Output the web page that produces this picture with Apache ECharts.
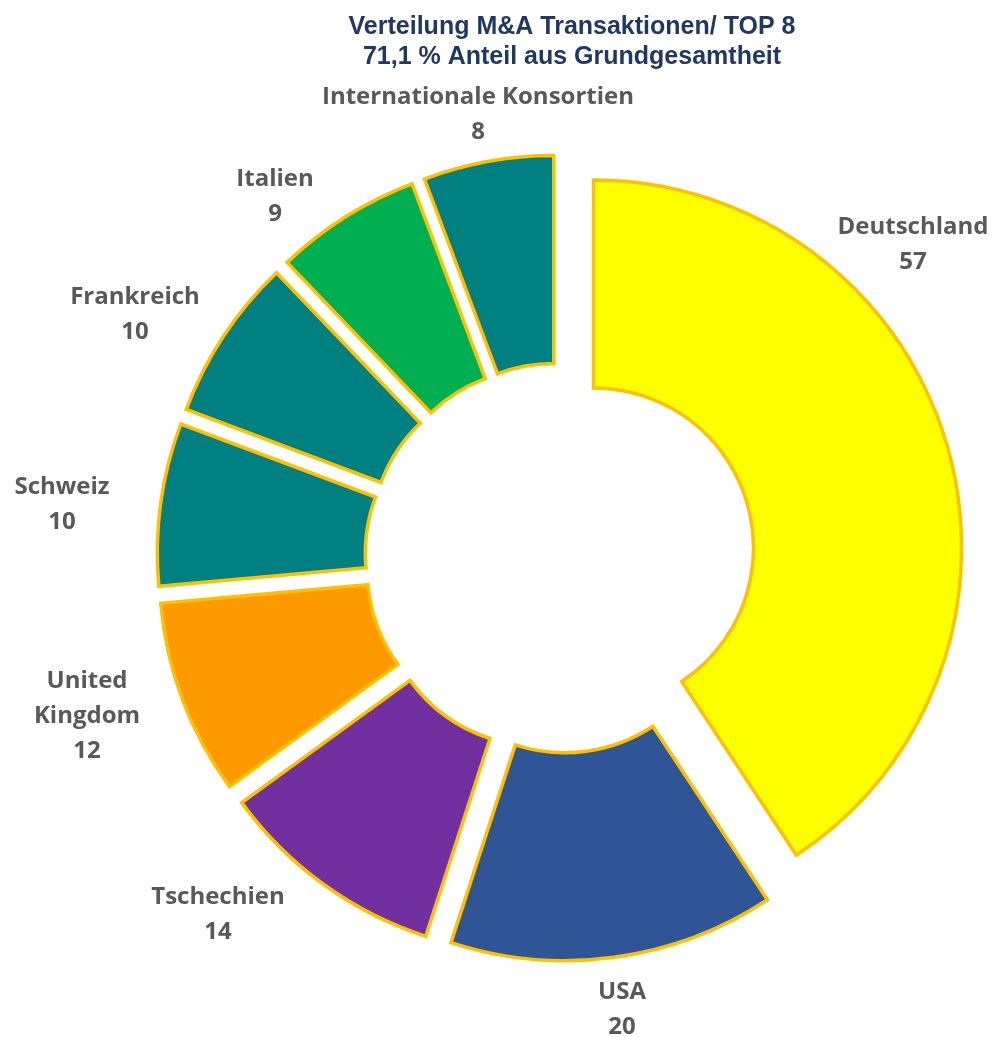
<!DOCTYPE html>
<html>
<head>
<meta charset="utf-8">
<script src="https://cdn.jsdelivr.net/npm/echarts@6/dist/echarts.min.js"></script>
<style>
  html, body { margin: 0; padding: 0; background: #fff; }
  #main { width: 992px; height: 1037px; }
</style>
</head>
<body>
<div id="main"></div>
<script>
// values
var countries = ['Deutschland', 'USA', 'Tschechien', 'United\nKingdom', 'Schweiz', 'Frankreich', 'Italien', 'Internationale Konsortien'];
var deals = [57, 20, 14, 12, 10, 10, 9, 8];
var sliceColors = ['#FFFF00', '#2F5597', '#7030A0', '#FF9900', '#008080', '#008080', '#00B050', '#008080'];

var chart = echarts.init(document.getElementById('main'));

// where Excel put each label (centre of the text block)
var labelSpots = [
    [913, 245], [622, 1010], [218, 915], [87, 716],
    [62, 505], [135, 315], [275, 197], [478, 115]
];

var pieCenter = [560, 558];
var pieRadius = [160, 368];

var option = {
    backgroundColor: '#fff',
    animation: false,
    title: {
        text: 'Verteilung M&A Transaktionen/ TOP 8\n71,1 % Anteil aus Grundgesamtheit',
        left: 567,
        top: 7,
        textAlign: 'center',
        textStyle: {
            fontFamily: 'Liberation Sans, Arial',
            fontSize: 25,
            fontWeight: 'bold',
            color: '#1F3864',
            lineHeight: 30
        }
    },
    series: [
        {
            name: 'M&A',
            type: 'pie',
            center: pieCenter,
            radius: pieRadius,
            startAngle: 90,
            clockwise: true,
            selectedMode: 'multiple',
            selectedOffset: 35,
            itemStyle: {
                borderColor: '#FFC000',
                borderWidth: 3.5,
                borderJoin: 'miter'
            },
            label: { show: false },
            labelLine: { show: false },
            emphasis: { disabled: true },
            data: countries.map(function (name, i) {
                return {
                    name: name,
                    value: deals[i],
                    selected: true,
                    itemStyle: { color: sliceColors[i] }
                };
            })
        },
        {
            // invisible twin, only carries the labels
            name: 'labels',
            type: 'pie',
            center: pieCenter,
            radius: pieRadius,
            startAngle: 90,
            clockwise: true,
            silent: true,
            z: 3,
            itemStyle: { color: 'rgba(0,0,0,0)', borderWidth: 0 },
            label: {
                show: true,
                position: 'outside',
                formatter: '{b}\n{c}',
                fontFamily: 'Open Sans, sans-serif',
                fontSize: 24,
                fontWeight: 'bold',
                color: '#595959',
                lineHeight: 35,
                align: 'center',
                overflow: 'none',
                width: 400
            },
            labelLine: { show: false },
            labelLayout: function (params) {
                var p = labelSpots[params.dataIndex];
                return { x: p[0], y: p[1], align: 'center', verticalAlign: 'middle' };
            },
            emphasis: { disabled: true },
            data: countries.map(function (name, i) {
                return { name: name, value: deals[i] };
            })
        }
    ]
};
chart.setOption(option);
window.addEventListener('resize', function () {
    chart.resize();
});
</script>
</body>
</html>
